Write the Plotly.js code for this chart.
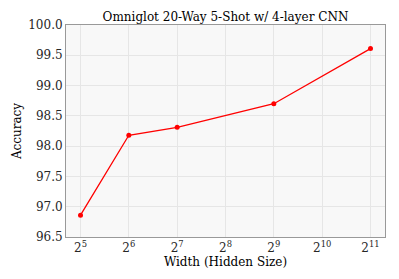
<!DOCTYPE html>
<html><head><meta charset="utf-8">
<script src="https://cdn.plot.ly/plotly-3.0.1.min.js"></script>
<style>html,body{margin:0;padding:0;background:#fff;}#chart{width:399px;height:279px;}</style>
</head><body><div id="chart"></div>
<script>
const widths = [32, 64, 128, 512, 2048];
const accuracy = [96.86, 98.18, 98.31, 98.70, 99.61];
const xTickVals = [32, 64, 128, 256, 512, 1024, 2048];
const xTickText = ['2<sup>5</sup>','2<sup>6</sup>','2<sup>7</sup>','2<sup>8</sup>','2<sup>9</sup>','2<sup>10</sup>','2<sup>11</sup>'];
const yTickVals = [96.5, 97.0, 97.5, 98.0, 98.5, 99.0, 99.5, 100.0];
const yTickText = ['96.5','97.0','97.5','98.0','98.5','99.0','99.5','100.0'];

const font = 'DejaVu Serif, serif';
const trace = {
  x: widths, y: accuracy, type: 'scatter', mode: 'lines+markers',
  line: {color: '#ff0000', width: 1.3},
  marker: {color: '#ff0000', size: 5},
  cliponaxis: false
};
const layout = {
  width: 399, height: 279,
  margin: {l: 66, r: 14, t: 25, b: 42},
  paper_bgcolor: '#ffffff', plot_bgcolor: '#f8f8f8',
  showlegend: false,
  font: {family: font, color: '#222', size: 12},
  title: {text: 'Omniglot 20-Way 5-Shot w/ 4-layer CNN', font: {family: font, size: 12, color: '#000'},
          x: 0.5, xref: 'paper', y: 1, yref: 'paper', yanchor: 'bottom', pad: {b: 4}},
  xaxis: {
    type: 'log', range: [Math.log10(Math.pow(2,4.7)), Math.log10(Math.pow(2,11.3))],
    tickvals: xTickVals, ticktext: xTickText, tickfont: {family: font, size: 12, color: '#262626'},
    showgrid: true, gridcolor: '#e6e6e6', gridwidth: 1,
    showline: true, linecolor: '#999', linewidth: 1, mirror: true,
    ticks: '', zeroline: false,
    title: {text: 'Width (Hidden Size)', font: {family: font, size: 12, color: '#000'}, standoff: 1}
  },
  yaxis: {
    range: [96.5, 100.0],
    tickvals: yTickVals, ticktext: yTickText, tickfont: {family: font, size: 12, color: '#262626'},
    showgrid: true, gridcolor: '#e6e6e6', gridwidth: 1,
    showline: true, linecolor: '#999', linewidth: 1, mirror: true,
    ticks: '', zeroline: false,
    title: {text: 'Accuracy', font: {family: font, size: 12, color: '#000'}, standoff: 4}
  }
};
Plotly.newPlot('chart', [trace], layout, {displayModeBar: false, staticPlot: true});
</script></body></html>
